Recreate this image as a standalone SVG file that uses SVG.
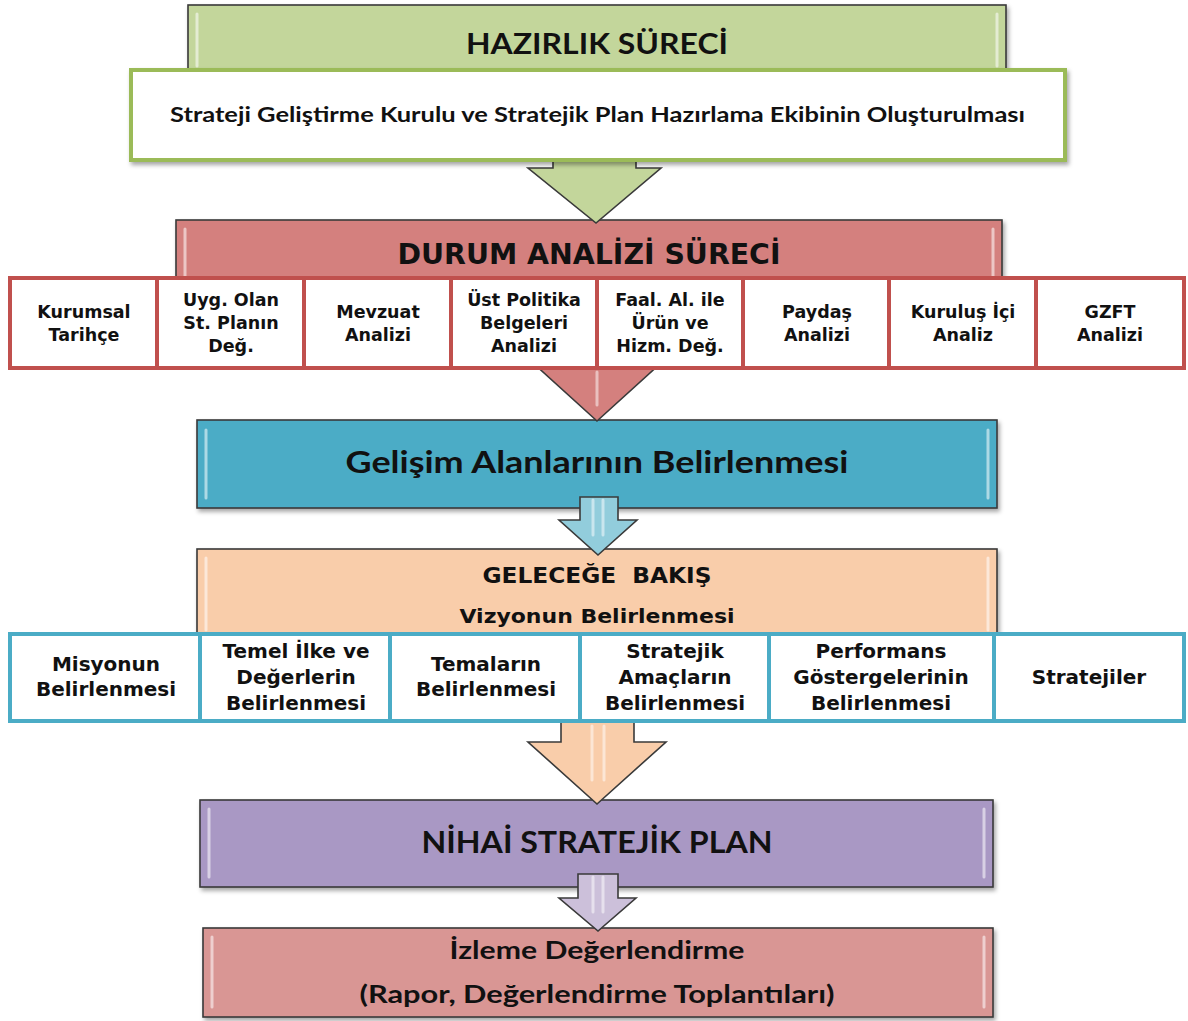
<svg xmlns="http://www.w3.org/2000/svg" width="1188" height="1021" viewBox="0 0 1188 1021">
<defs>
<filter id="sh" x="-5%" y="-10%" width="110%" height="130%">
<feDropShadow dx="2" dy="3" stdDeviation="2" flood-color="#000" flood-opacity="0.35"/>
</filter>
</defs>
<style>
.box{stroke:#3a3a3a;stroke-width:1.6;filter:url(#sh)}
.hl{stroke:#fff;stroke-opacity:.55;stroke-width:3;stroke-linecap:round;fill:none}
.arr{stroke:#3a3a3a;stroke-width:1.6;stroke-linejoin:miter}
.ahl{stroke:#fff;stroke-opacity:.5;stroke-width:3;stroke-linecap:round;fill:none}
.tc{font-family:Lato,"Liberation Sans",sans-serif;font-weight:700;fill:#111;text-anchor:middle}
.tt{font-family:"DejaVu Sans","Liberation Sans",sans-serif;font-weight:700;fill:#111;text-anchor:middle}
.c1{fill:#fff;stroke:#c0504d;stroke-width:4}
.c2{fill:#fff;stroke:#4bacc6;stroke-width:4}
.s1{font-size:17.5px}
.s2{font-size:20px}
</style>
<rect width="1188" height="1021" fill="#fff"/>

<!-- main stage boxes -->
<g id="hazirlik">
<rect class="box" x="188" y="5" width="818" height="75" fill="#c3d69b"/>
<line class="hl" x1="197" y1="14" x2="197" y2="66"/>
<line class="hl" x1="997" y1="14" x2="997" y2="66"/>
<text class="tc" x="597" y="54" font-size="29" textLength="262" lengthAdjust="spacingAndGlyphs">HAZIRLIK SÜRECİ</text>
</g>
<g id="durum">
<rect class="box" x="176" y="220" width="826" height="80" fill="#d4807e"/>
<line class="hl" x1="185" y1="229" x2="185" y2="276"/>
<line class="hl" x1="993" y1="229" x2="993" y2="276"/>
<text class="tt" x="589" y="264" font-size="27.5" textLength="383" lengthAdjust="spacingAndGlyphs">DURUM ANALİZİ SÜRECİ</text>
</g>
<g id="gelisim">
<rect class="box" x="197" y="420" width="800" height="88" fill="#4bacc6"/>
<line class="hl" x1="206" y1="430" x2="206" y2="498"/>
<line class="hl" x1="988" y1="430" x2="988" y2="498"/>
<text class="tc" x="597" y="473" font-size="31" textLength="503" lengthAdjust="spacingAndGlyphs">Gelişim Alanlarının Belirlenmesi</text>
</g>
<g id="gelecege">
<rect class="box" x="197" y="549" width="800" height="110" fill="#f9cdaa"/>
<line class="hl" x1="206" y1="558" x2="206" y2="630"/>
<line class="hl" x1="988" y1="558" x2="988" y2="630"/>
<text class="tt" x="597" y="583" font-size="22" textLength="229" lengthAdjust="spacingAndGlyphs" style="white-space:pre">GELECEĞE  BAKIŞ</text>
<text class="tt" x="597" y="623" font-size="19.5" textLength="275" lengthAdjust="spacingAndGlyphs">Vizyonun Belirlenmesi</text>
</g>
<g id="nihai">
<rect class="box" x="200" y="800" width="793" height="87" fill="#a998c4"/>
<line class="hl" x1="209" y1="809" x2="209" y2="877"/>
<line class="hl" x1="984" y1="809" x2="984" y2="877"/>
<text class="tc" x="597" y="853" font-size="30" textLength="351" lengthAdjust="spacingAndGlyphs">NİHAİ STRATEJİK PLAN</text>
</g>
<g id="izleme">
<rect class="box" x="203" y="928" width="790" height="89" fill="#d99694"/>
<line class="hl" x1="212" y1="937" x2="212" y2="1007"/>
<line class="hl" x1="984" y1="937" x2="984" y2="1007"/>
<text class="tc" x="597" y="959" font-size="25" textLength="295" lengthAdjust="spacingAndGlyphs">İzleme Değerlendirme</text>
<text class="tc" x="597" y="1003" font-size="25" textLength="475" lengthAdjust="spacingAndGlyphs">(Rapor, Değerlendirme Toplantıları)</text>
</g>

<!-- connectors -->
<g id="connectors">
<path class="arr" fill="#c3d69b" d="M553,150 L636,150 L636,168 L661,168 L596,223 L528,168 L553,168 Z"/>
<path class="arr" fill="#d4807e" d="M562,330 L632,330 L632,362 L662,362 L597,421 L532,362 L562,362 Z"/>
<line class="ahl" x1="597" y1="372" x2="597" y2="405"/>
<path class="arr" fill="#92cddc" d="M580,497 L618,497 L618,520 L637,520 L598,555 L559,520 L580,520 Z"/>
<line class="ahl" x1="593" y1="500" x2="593" y2="535"/>
<line class="ahl" x1="603" y1="500" x2="603" y2="535"/>
<path class="arr" fill="#f9cdaa" d="M561,700 L634,700 L634,742 L666,742 L597,804 L528,742 L561,742 Z"/>
<line class="ahl" x1="592" y1="726" x2="592" y2="780"/>
<line class="ahl" x1="604" y1="726" x2="604" y2="780"/>
<path class="arr" fill="#ccc0da" d="M578,874 L618,874 L618,898 L636,898 L598,931 L559,898 L578,898 Z"/>
<line class="ahl" x1="593" y1="877" x2="593" y2="912"/>
<line class="ahl" x1="603" y1="877" x2="603" y2="912"/>
</g>

<!-- sub nodes -->
<g id="kurul">
<rect x="131" y="70" width="934" height="90" fill="#fff" stroke="#9bbb59" stroke-width="4" filter="url(#sh)"/>
<text class="tc" x="597.5" y="122" font-size="21" textLength="855" lengthAdjust="spacingAndGlyphs">Strateji Geliştirme Kurulu ve Stratejik Plan Hazırlama Ekibinin Oluşturulması</text>
</g>

<g id="d1"><rect class="c1" x="10" y="278" width="147" height="90"/><text class="tt s1" x="84" y="318">Kurumsal<tspan x="84" dy="23">Tarihçe</tspan></text></g>
<g id="d2"><rect class="c1" x="157" y="278" width="147" height="90"/><text class="tt s1" x="231" y="306">Uyg. Olan<tspan x="231" dy="23">St. Planın</tspan><tspan x="231" dy="23">Değ.</tspan></text></g>
<g id="d3"><rect class="c1" x="304" y="278" width="147" height="90"/><text class="tt s1" x="378" y="318">Mevzuat<tspan x="378" dy="23">Analizi</tspan></text></g>
<g id="d4"><rect class="c1" x="451" y="278" width="146" height="90"/><text class="tt s1" x="524" y="306">Üst Politika<tspan x="524" dy="23">Belgeleri</tspan><tspan x="524" dy="23">Analizi</tspan></text></g>
<g id="d5"><rect class="c1" x="597" y="278" width="146" height="90"/><text class="tt s1" x="670" y="306">Faal. Al. ile<tspan x="670" dy="23">Ürün ve</tspan><tspan x="670" dy="23">Hizm. Değ.</tspan></text></g>
<g id="d6"><rect class="c1" x="743" y="278" width="146" height="90"/><text class="tt s1" x="817" y="318">Paydaş<tspan x="817" dy="23">Analizi</tspan></text></g>
<g id="d7"><rect class="c1" x="889" y="278" width="147" height="90"/><text class="tt s1" x="963" y="318">Kuruluş İçi<tspan x="963" dy="23">Analiz</tspan></text></g>
<g id="d8"><rect class="c1" x="1036" y="278" width="148" height="90"/><text class="tt s1" x="1110" y="318">GZFT<tspan x="1110" dy="23">Analizi</tspan></text></g>

<g id="g1"><rect class="c2" x="10" y="634" width="190" height="87"/><text class="tt s2" x="106" y="671">Misyonun<tspan x="106" dy="25">Belirlenmesi</tspan></text></g>
<g id="g2"><rect class="c2" x="200" y="634" width="190" height="87"/><text class="tt s2" x="296" y="658">Temel İlke ve<tspan x="296" dy="26">Değerlerin</tspan><tspan x="296" dy="26">Belirlenmesi</tspan></text></g>
<g id="g3"><rect class="c2" x="390" y="634" width="190" height="87"/><text class="tt s2" x="486" y="671">Temaların<tspan x="486" dy="25">Belirlenmesi</tspan></text></g>
<g id="g4"><rect class="c2" x="580" y="634" width="189" height="87"/><text class="tt s2" x="675" y="658">Stratejik<tspan x="675" dy="26">Amaçların</tspan><tspan x="675" dy="26">Belirlenmesi</tspan></text></g>
<g id="g5"><rect class="c2" x="769" y="634" width="225" height="87"/><text class="tt s2" x="881" y="658">Performans<tspan x="881" dy="26">Göstergelerinin</tspan><tspan x="881" dy="26">Belirlenmesi</tspan></text></g>
<g id="g6"><rect class="c2" x="994" y="634" width="190" height="87"/><text class="tt s2" x="1089" y="684">Stratejiler</text></g>
</svg>
